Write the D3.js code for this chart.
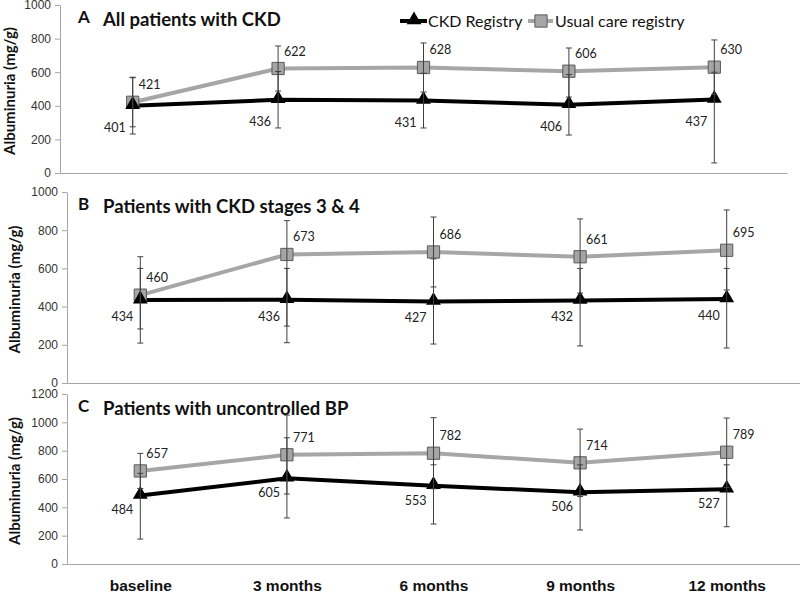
<!DOCTYPE html>
<html>
<head>
<meta charset="utf-8">
<script src="https://cdn.jsdelivr.net/npm/d3@7"></script>
<style>
  body { margin: 0; background: #fff; }
  svg { font-family: Lato, 'Open Sans', sans-serif; }
  .axis path, .axis line { stroke: #a6a6a6; }
  .axis text { fill: #333; font-size: 12px; }
</style>
</head>
<body>
<svg width="800" height="594"></svg>
<script>
const months = ['baseline', '3 months', '6 months', '9 months', '12 months']
const ticksAB = [0, 200, 400, 600, 800, 1000]
const ticksC = [0, 200, 400, 600, 800, 1000, 1200]

// panel A: all patients
const ckdA = [401, 436, 431, 406, 437]
const ckdA_lo = [232, 268, 268, 226, 60]
const ckdA_hi = [570, 604, 594, 586, 600]
const usualA = [421, 622, 628, 606, 630]
const usualA_lo = [275, 488, 482, 452, 468]
const usualA_hi = [567, 756, 774, 744, 792]

// panel B: CKD stages 3 & 4
const ckdB = [434, 436, 427, 432, 440]
const ckdB_lo = [209, 211, 204, 194, 183]
const ckdB_hi = [600, 600, 650, 600, 600]
const usualB = [460, 673, 686, 661, 695]
const usualB_lo = [283, 298, 503, 471, 487]
const usualB_hi = [661, 850, 869, 859, 906]

// panel C: uncontrolled BP
const ckdC = [484, 605, 553, 506, 527]
const ckdC_lo = [176, 325, 282, 240, 263]
const ckdC_hi = [640, 891, 700, 700, 700]
const usualC = [657, 771, 782, 714, 789]
const usualC_lo = [533, 494, 531, 476, 540]
const usualC_hi = [781, 1051, 1033, 952, 1030]

const panels = [
  { letter: 'A', title: 'All patients with CKD', ticks: ticksAB,
    ckd: ckdA, ckdLo: ckdA_lo, ckdHi: ckdA_hi, usual: usualA, usualLo: usualA_lo, usualHi: usualA_hi,
    left: 60, right: 787, top: 5, bottom: 173, labelDy: 21 },
  { letter: 'B', title: 'Patients with CKD stages 3 & 4', ticks: ticksAB,
    ckd: ckdB, ckdLo: ckdB_lo, ckdHi: ckdB_hi, usual: usualB, usualLo: usualB_lo, usualHi: usualB_hi,
    left: 67, right: 800, top: 192, bottom: 383, labelDy: 16 },
  { letter: 'C', title: 'Patients with uncontrolled BP', ticks: ticksC,
    ckd: ckdC, ckdLo: ckdC_lo, ckdHi: ckdC_hi, usual: usualC, usualLo: usualC_lo, usualHi: usualC_hi,
    left: 67, right: 800, top: 394, bottom: 564, labelDy: 14, showX: true },
]

const ckdColor = '#000'
const usualColor = '#a6a6a6'
const barColor = '#404040'

const svg = d3.select('svg')
const triangle = d3.symbol().type(d3.symbolTriangle).size(95)
const square = d3.symbol().type(d3.symbolSquare).size(150)

function drawPanel(p) {
  const g = svg.append('g')
  const x = d3.scalePoint().domain(months).range([p.left, p.right]).padding(0.5)
  const y = d3.scaleLinear().domain([0, d3.max(p.ticks)]).range([p.bottom, p.top])

  g.append('g')
    .attr('class', 'axis')
    .attr('transform', `translate(${p.left},0)`)
    .call(d3.axisLeft(y).tickValues(p.ticks).tickFormat(d3.format('d'))
      .tickSize(5).tickSizeOuter(0).tickPadding(4))

  const xAxis = g.append('g')
    .attr('class', 'axis')
    .attr('transform', `translate(0,${p.bottom})`)
    .call(d3.axisBottom(x).tickSize(0).tickSizeOuter(0).tickPadding(16)
      .tickFormat(p.showX ? (d) => d : ''))
  xAxis.selectAll('text')
    .style('font-size', '15.5px')
    .style('font-weight', 'bold')
    .style('fill', '#111')

  // y label
  g.append('text')
    .attr('transform', `translate(${Math.max(p.left - 47, 15)},${(p.top + p.bottom) / 2 + 2}) rotate(-90)`)
    .attr('text-anchor', 'middle')
    .style('font-size', '15px')
    .style('font-weight', 'bold')
    .style('fill', '#111')
    .text('Albuminuria (mg/g)')

  // title
  g.append('text')
    .attr('x', 78).attr('y', p.top + 18)
    .style('font-size', '17px').style('font-weight', 'bold').style('fill', '#111')
    .text(p.letter)
  g.append('text')
    .attr('x', 103).attr('y', p.top + 21)
    .style('font-size', '18.5px').style('font-weight', 'bold').style('fill', '#111')
    .text(p.title)

  const line = d3.line().x((d, i) => x(months[i])).y((d) => y(d))

  g.append('path').datum(p.usual)
    .attr('d', line).attr('fill', 'none')
    .attr('stroke', usualColor).attr('stroke-width', 4)
  g.append('path').datum(p.ckd)
    .attr('d', line).attr('fill', 'none')
    .attr('stroke', ckdColor).attr('stroke-width', 4)

  g.selectAll('.sq').data(p.usual).join('path')
    .attr('class', 'sq')
    .attr('d', square)
    .attr('transform', (d, i) => `translate(${x(months[i])},${y(d)})`)
    .attr('fill', '#a5a5a5').attr('stroke', '#5a5a5a').attr('stroke-width', 1)
  g.selectAll('.tri').data(p.ckd).join('path')
    .attr('class', 'tri')
    .attr('d', triangle)
    .attr('transform', (d, i) => `translate(${x(months[i])},${y(d) - 1})`)
    .attr('fill', ckdColor)

  // error bars
  const bars = []
  months.forEach((m, i) => {
    bars.push({ m, lo: p.usualLo[i], hi: p.usualHi[i] })
    bars.push({ m, lo: p.ckdLo[i], hi: p.ckdHi[i] })
  })
  const eb = g.selectAll('.eb').data(bars).join('g').attr('class', 'eb')
    .attr('stroke', barColor).attr('stroke-width', 1)
  eb.append('line')
    .attr('x1', (d) => x(d.m)).attr('x2', (d) => x(d.m))
    .attr('y1', (d) => y(d.lo)).attr('y2', (d) => y(d.hi))
  eb.append('line')
    .attr('x1', (d) => x(d.m) - 3).attr('x2', (d) => x(d.m) + 3)
    .attr('y1', (d) => y(d.lo)).attr('y2', (d) => y(d.lo))
  eb.append('line')
    .attr('x1', (d) => x(d.m) - 3).attr('x2', (d) => x(d.m) + 3)
    .attr('y1', (d) => y(d.hi)).attr('y2', (d) => y(d.hi))

  // data labels
  g.selectAll('.ul').data(p.usual).join('text')
    .attr('class', 'ul')
    .attr('x', (d, i) => x(months[i]) + 6)
    .attr('y', (d) => y(d) - 13)
    .style('font-size', '12.5px').style('fill', '#222')
    .text((d) => d)
  g.selectAll('.cl').data(p.ckd).join('text')
    .attr('class', 'cl')
    .attr('x', (d, i) => x(months[i]) - 7)
    .attr('y', (d) => y(d) + p.labelDy + 5)
    .attr('text-anchor', 'end')
    .style('font-size', '12.5px').style('fill', '#222')
    .text((d) => d)
}

panels.forEach(drawPanel)

// legend
const legend = svg.append('g').attr('transform', 'translate(400,21)')
legend.append('line').attr('x1', 0).attr('x2', 27).attr('stroke', ckdColor).attr('stroke-width', 4)
legend.append('path').attr('d', triangle).attr('transform', 'translate(14,-1)').attr('fill', ckdColor)
legend.append('text').attr('x', 28).attr('y', 6)
  .style('font-size', '16px').style('fill', '#111').text('CKD Registry')
legend.append('line').attr('x1', 128).attr('x2', 153).attr('stroke', usualColor).attr('stroke-width', 4)
legend.append('path').attr('d', square).attr('transform', 'translate(141,0)')
  .attr('fill', '#a5a5a5').attr('stroke', '#5a5a5a')
legend.append('text').attr('x', 155).attr('y', 6)
  .style('font-size', '16px').style('fill', '#111').text('Usual care registry')
</script>
</body>
</html>
